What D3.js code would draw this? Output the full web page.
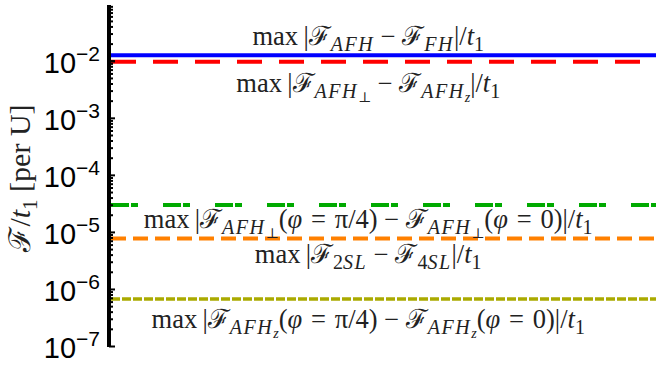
<!DOCTYPE html>
<html>
<head>
<meta charset="utf-8">
<script src="https://cdn.jsdelivr.net/npm/d3@7"></script>
<style>
  html, body { margin: 0; padding: 0; background: #fff; }
  svg { display: block; }
</style>
</head>
<body>
<svg id="chart" width="656" height="367"></svg>
<script>
// Differences in free energy per hopping, constant in U
const seriesNames = ["AFH-FH", "AFHperp-AFHz", "AFHperp-phi", "2SL-4SL", "AFHz-phi"];
const seriesValues = [1.25e-2, 9.6e-3, 2.95e-5, 7.7e-6, 6.65e-7];
const seriesColors = ["#0000ff", "#ff0000", "#00aa00", "#ff8000", "#aaaa00"];
const seriesDash = [null, "25,17", "18,2,7,25", "15,7", "9,2"];
const tickExponents = [-7, -6, -5, -4, -3, -2];

// Label text as runs: [text, level(0 base,1 sub,2 subsub), italic]
const F = "ℱ";
const SP = "\u2005";              // medium math space
const MINUS = SP + "−" + SP;
const EQ = "\u2004=\u2004";
const labelRuns = [
  [["max", 0, false], ["\u2009|", 0, false], [F, 0, false], ["AFH", 1, true], [MINUS, 0, false], [F, 0, false], ["FH", 1, true], ["|/", 0, false], ["t", 0, true], ["1", 1, false]],
  [["max", 0, false], ["\u2009|", 0, false], [F, 0, false], ["AFH", 1, true], ["⊥", 2, false], [MINUS, 0, false], [F, 0, false], ["AFH", 1, true], ["z", 2, true], ["|/", 0, false], ["t", 0, true], ["1", 1, false]],
  [["max", 0, false], ["\u2009|", 0, false], [F, 0, false], ["AFH", 1, true], ["⊥", 2, false], ["(", 0, false], ["φ", 0, true], [EQ + "π/4)" + MINUS, 0, false], [F, 0, false], ["AFH", 1, true], ["⊥", 2, false], ["(", 0, false], ["φ", 0, true], [EQ + "0)|/", 0, false], ["t", 0, true], ["1", 1, false]],
  [["max", 0, false], ["\u2009|", 0, false], [F, 0, false], ["2", 1, false], ["SL", 1, true], [MINUS, 0, false], [F, 0, false], ["4", 1, false], ["SL", 1, true], ["|/", 0, false], ["t", 0, true], ["1", 1, false]],
  [["max", 0, false], ["\u2009|", 0, false], [F, 0, false], ["AFH", 1, true], ["z", 2, true], ["(", 0, false], ["φ", 0, true], [EQ + "π/4)" + MINUS, 0, false], [F, 0, false], ["AFH", 1, true], ["z", 2, true], ["(", 0, false], ["φ", 0, true], [EQ + "0)|/", 0, false], ["t", 0, true], ["1", 1, false]]
];
// Baseline offset of each label from its line (px)
const labelOffsets = [-10, 30.5, 23, 25, 29];

const svg = d3.select("#chart");
const axisX = 109;

const y = d3.scaleLog().domain([1e-7, 0.095]).range([346, 5]);
const x = d3.scaleLinear().domain([0, 1]).range([axisX + 2, 656]);

// horizontal reference lines
const line = d3.line().x(d => x(d[0])).y(d => y(d[1]));
seriesValues.forEach((v, i) => {
  svg.append("path")
    .attr("d", line([[0, v], [1, v]]))
    .attr("fill", "none")
    .attr("stroke", seriesColors[i])
    .attr("stroke-width", i === 4 ? 3.5 : 4)
    .attr("stroke-dasharray", seriesDash[i]);
});

// annotations
const sizes = [26.5, 20, 14];
const shifts = [0, 6, 9.5];
labelRuns.forEach((runs, i) => {
  const t = svg.append("text")
    .attr("x", x(0.472))
    .attr("y", y(seriesValues[i]) + labelOffsets[i])
    .attr("text-anchor", "middle")
    .attr("font-family", "'Liberation Serif', 'DejaVu Serif', serif")
    .attr("fill", "#222");
  let prev = 0;
  runs.forEach(([s, lvl, it]) => {
    t.append("tspan")
      .attr("dy", shifts[lvl] - shifts[prev])
      .attr("font-size", sizes[lvl])
      .attr("font-style", it ? "italic" : "normal")
      .attr("letter-spacing", lvl === 1 && it ? 1.5 : 0)
      .text(s);
    prev = lvl;
  });
});

// y axis with log ticks inward
const yAxis = d3.axisRight(y)
  .tickValues(d3.range(-7, -1).flatMap(e => d3.range(1, 10).map(m => m * Math.pow(10, e))).concat([0.01]).filter(v => v <= 0.095))
  .tickSize(0)
  .tickFormat("");
const gAxis = svg.append("g").attr("transform", `translate(${axisX},0)`).call(yAxis);
gAxis.select(".domain").remove();
gAxis.selectAll(".tick line")
  .attr("x2", d => Math.abs(Math.log10(d) - Math.round(Math.log10(d))) < 1e-9 ? 6 : 4)
  .attr("stroke", "#000")
  .attr("stroke-width", 2);
svg.append("line")
  .attr("x1", axisX).attr("x2", axisX)
  .attr("y1", y.range()[0] + 1).attr("y2", y.range()[1])
  .attr("stroke", "#000").attr("stroke-width", 4);

// tick labels 10^e
tickExponents.forEach(e => {
  const t = svg.append("text")
    .attr("x", 100)
    .attr("y", y(Math.pow(10, e)) + 12)
    .attr("text-anchor", "end")
    .attr("font-family", "'Liberation Sans', Arial, sans-serif")
    .attr("fill", "#000");
  t.append("tspan").attr("font-size", 29).text("10");
  t.append("tspan").attr("font-size", 21).attr("dy", -12).text("−" + (-e));
});

// y title
const yt = svg.append("text")
  .attr("transform", "translate(30,178) rotate(-90)")
  .attr("text-anchor", "middle")
  .attr("font-family", "'Liberation Serif', 'DejaVu Serif', serif")
  .attr("font-size", 30)
  .attr("fill", "#222");
yt.append("tspan").text(F + "/");
yt.append("tspan").attr("font-style", "italic").text("t");
yt.append("tspan").attr("font-size", 21).attr("dy", 7).text("1");
yt.append("tspan").attr("dy", -7).text(" [per U]");
</script>
</body>
</html>
